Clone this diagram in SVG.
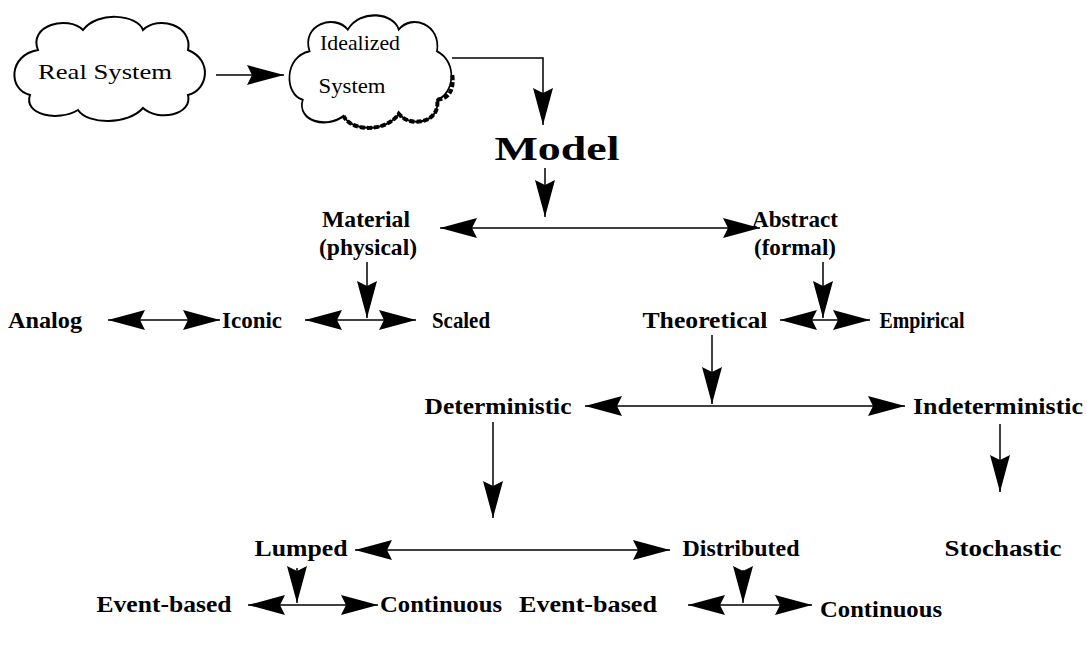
<svg xmlns="http://www.w3.org/2000/svg" xmlns:xlink="http://www.w3.org/1999/xlink" width="1087" height="649" viewBox="0 0 1087 649">
<style>
text{font-family:"Liberation Serif","Times New Roman",serif;fill:#000;text-anchor:middle}
.b{font-weight:bold;font-size:23px}
.c{font-size:22px}
.m{font-weight:bold;font-size:33px}
.cloud{fill:#fff;stroke:#000;stroke-width:2}
.ln{stroke:#000;stroke-width:1.5;fill:none}
</style>
<defs>
<marker id="ah" markerUnits="userSpaceOnUse" markerWidth="40" markerHeight="22" refX="37" refY="10" orient="auto-start-reverse" viewBox="0 0 40 22">
<path d="M0,0 L37,10 L0,20 L5,10 Z" fill="#000"/>
</marker>
<path id="cloudp" d="M30,40 C20,15 60,5 75,20 C90,0 130,5 135,20 C150,5 185,15 180,40 C205,50 200,80 180,85 C185,105 150,112 135,98 C120,115 80,115 70,100 C50,112 15,105 22,85 C0,80 0,45 30,40 Z"/>
</defs>
<rect width="1087" height="649" fill="#fff"/>
<g id="real-system">
<use xlink:href="#cloudp" class="cloud" transform="translate(8,10)"/>
<text class="c" x="105" y="79" textLength="134" lengthAdjust="spacingAndGlyphs">Real System</text>
</g>
<g id="idealized-system">
<use xlink:href="#cloudp" class="cloud" vector-effect="non-scaling-stroke" transform="translate(284,8) scale(0.85,1.08)"/>
<path d="M198,62 C200,75 195,84 180,85 C185,105 150,112 135,98 C120,115 80,115 70,100" transform="translate(284,8) scale(0.85,1.08)" fill="none" stroke="#000" stroke-width="4" stroke-dasharray="5 2" vector-effect="non-scaling-stroke"/>
<text class="c" x="360" y="50" textLength="80" lengthAdjust="spacingAndGlyphs">Idealized</text>
<text class="c" x="352" y="93" textLength="67" lengthAdjust="spacingAndGlyphs">System</text>
</g>
<g id="model"><text class="m" x="557" y="160" textLength="125" lengthAdjust="spacingAndGlyphs">Model</text></g>
<g id="material"><text class="b" x="366" y="227" textLength="88" lengthAdjust="spacingAndGlyphs">Material</text><text class="b" x="368" y="255" textLength="98" lengthAdjust="spacingAndGlyphs">(physical)</text></g>
<g id="abstract"><text class="b" x="795" y="227" textLength="86" lengthAdjust="spacingAndGlyphs">Abstract</text><text class="b" x="795" y="255" textLength="82" lengthAdjust="spacingAndGlyphs">(formal)</text></g>
<g id="analog"><text class="b" x="45" y="328" textLength="74" lengthAdjust="spacingAndGlyphs">Analog</text></g>
<g id="iconic"><text class="b" x="252" y="328" textLength="60" lengthAdjust="spacingAndGlyphs">Iconic</text></g>
<g id="scaled"><text class="b" x="461" y="328" textLength="58" lengthAdjust="spacingAndGlyphs">Scaled</text></g>
<g id="theoretical"><text class="b" x="705" y="328" textLength="125" lengthAdjust="spacingAndGlyphs">Theoretical</text></g>
<g id="empirical"><text class="b" x="922" y="328" textLength="85" lengthAdjust="spacingAndGlyphs">Empirical</text></g>
<g id="deterministic"><text class="b" x="498" y="414" textLength="147" lengthAdjust="spacingAndGlyphs">Deterministic</text></g>
<g id="indeterministic"><text class="b" x="998" y="414" textLength="170" lengthAdjust="spacingAndGlyphs">Indeterministic</text></g>
<g id="stochastic"><text class="b" x="1003" y="556" textLength="117" lengthAdjust="spacingAndGlyphs">Stochastic</text></g>
<g id="lumped"><text class="b" x="301" y="556" textLength="93" lengthAdjust="spacingAndGlyphs">Lumped</text></g>
<g id="distributed"><text class="b" x="741" y="556" textLength="117" lengthAdjust="spacingAndGlyphs">Distributed</text></g>
<g id="event-based-1"><text class="b" x="164" y="612" textLength="135" lengthAdjust="spacingAndGlyphs">Event-based</text></g>
<g id="continuous-1"><text class="b" x="441" y="612" textLength="122" lengthAdjust="spacingAndGlyphs">Continuous</text></g>
<g id="event-based-2"><text class="b" x="588" y="612" textLength="138" lengthAdjust="spacingAndGlyphs">Event-based</text></g>
<g id="continuous-2"><text class="b" x="881" y="617" textLength="122" lengthAdjust="spacingAndGlyphs">Continuous</text></g>
<g id="connectors">
<line class="ln" x1="216" y1="75" x2="284" y2="75" marker-end="url(#ah)"/>
<polyline class="ln" points="452,58 543,58 543,125" marker-end="url(#ah)"/>
<line class="ln" x1="545" y1="168" x2="545" y2="217" marker-end="url(#ah)"/>
<line class="ln" x1="440" y1="228" x2="760" y2="228" marker-start="url(#ah)" marker-end="url(#ah)"/>
<line class="ln" x1="367" y1="262" x2="367" y2="318" marker-end="url(#ah)"/>
<line class="ln" x1="108" y1="320" x2="220" y2="320" marker-start="url(#ah)" marker-end="url(#ah)"/>
<line class="ln" x1="305" y1="320" x2="416" y2="320" marker-start="url(#ah)" marker-end="url(#ah)"/>
<line class="ln" x1="823" y1="262" x2="823" y2="318" marker-end="url(#ah)"/>
<line class="ln" x1="780" y1="320" x2="870" y2="320" marker-start="url(#ah)" marker-end="url(#ah)"/>
<line class="ln" x1="712" y1="335" x2="712" y2="404" marker-end="url(#ah)"/>
<line class="ln" x1="585" y1="406" x2="905" y2="406" marker-start="url(#ah)" marker-end="url(#ah)"/>
<line class="ln" x1="493" y1="422" x2="493" y2="518" marker-end="url(#ah)"/>
<line class="ln" x1="1000" y1="424" x2="1000" y2="492" marker-end="url(#ah)"/>
<line class="ln" x1="355" y1="550" x2="670" y2="550" marker-start="url(#ah)" marker-end="url(#ah)"/>
<line class="ln" x1="297" y1="568" x2="297" y2="603" marker-end="url(#ah)"/>
<line class="ln" x1="248" y1="605" x2="378" y2="605" marker-start="url(#ah)" marker-end="url(#ah)"/>
<line class="ln" x1="743" y1="570" x2="743" y2="603" marker-end="url(#ah)"/>
<line class="ln" x1="688" y1="605" x2="812" y2="605" marker-start="url(#ah)" marker-end="url(#ah)"/>
</g>
</svg>
